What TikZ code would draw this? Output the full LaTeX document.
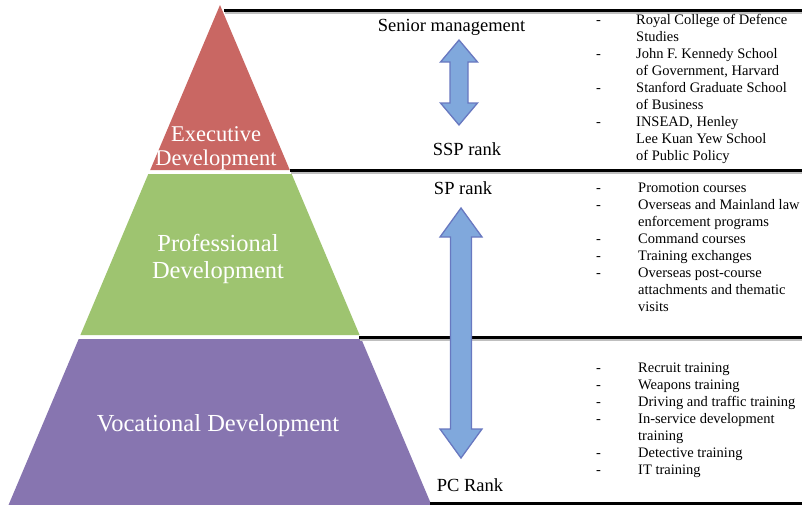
\documentclass[tikz,border=0pt]{standalone}
\usepackage{fontspec}
\setmainfont{Liberation Serif}
\definecolor{execred}{RGB}{201,103,99}
\definecolor{profgreen}{RGB}{158,196,112}
\definecolor{vocpurple}{RGB}{135,117,176}
\definecolor{arrowblue}{RGB}{128,168,220}
\definecolor{arrowedge}{RGB}{104,120,192}
\begin{document}
\begin{tikzpicture}[x=1pt,y=-1pt,
  rule/.style={line width=3pt, black},
  ruleshade/.style={line width=2pt, black!25},
  tier/.style={text=white, align=center, inner sep=0pt, anchor=base},
  rank/.style={font=\fontsize{18.5}{21}\selectfont, inner sep=0pt, anchor=base},
  itemlist/.style={font=\fontsize{14.5}{17}\selectfont, inner sep=0pt, anchor=base west},
  movearrow/.style={fill=arrowblue, draw=arrowedge, line width=1.3pt, line join=miter}
]
\useasboundingbox (0,0) rectangle (802,504);

% pyramid tiers
\fill[execred]   (220,5) -- (289.8,170) -- (150.2,170) -- cycle;
\fill[profgreen] (148.3,174) -- (291.7,174) -- (359.6,335) -- (80.4,335) -- cycle;
\fill[vocpurple] (78.7,339) -- (361.3,339) -- (431.9,506) -- (8.1,506) -- cycle;

% separator rules with a soft shade underneath
\draw[ruleshade] (225,12.5) -- (802,12.5);
\draw[rule]      (224,10) -- (802,10);
\draw[ruleshade] (291,172.5) -- (802,172.5);
\draw[rule]      (290,170) -- (802,170);
\draw[ruleshade] (360,339.5) -- (802,339.5);
\draw[rule]      (359,337) -- (802,337);
\draw[rule]      (430,503) -- (802,503);

% tier labels
\node[tier, font=\fontsize{22.5}{24}\selectfont] (exec1) at (216,141) {Executive};
\node[tier, font=\fontsize{22.5}{24}\selectfont] (exec2) at (216,165) {Development};
\node[tier, font=\fontsize{24.5}{27}\selectfont] (prof1) at (218,251) {Professional};
\node[tier, font=\fontsize{24.5}{27}\selectfont] (prof2) at (218,278) {Development};
\node[tier, font=\fontsize{24.5}{27}\selectfont] (voc) at (218,431) {Vocational Development};

% rank labels
\node[rank] (senior) at (451.5,31) {Senior management};
\node[rank] (ssp) at (467,155) {SSP rank};
\node[rank] (sp) at (463,194) {SP rank};
\node[rank] (pc) at (470,491) {PC Rank};

% double-headed progression arrows
\draw[movearrow] (459,40) -- (477.5,62) -- (468,62) -- (468,103) -- (477.5,103) -- (459,125)
  -- (440.5,103) -- (450,103) -- (450,62) -- (440.5,62) -- cycle;
\draw[movearrow] (461,208) -- (482,237) -- (471.5,237) -- (471.5,429) -- (482,429) -- (461,458)
  -- (440,429) -- (450.5,429) -- (450.5,237) -- (440,237) -- cycle;

% course lists
\node[itemlist] (execlist) at (596,24.5) {\begin{tabular}[t]{@{}p{40pt}@{}l@{}}
- & Royal College of Defence\\
  & Studies\\
- & John F. Kennedy School\\
  & of Government, Harvard\\
- & Stanford Graduate School\\
  & of Business\\
- & INSEAD, Henley\\
  & Lee Kuan Yew School\\
  & of Public Policy
\end{tabular}};

\node[itemlist] (proflist) at (596,192.5) {\begin{tabular}[t]{@{}p{42pt}@{}l@{}}
- & Promotion courses\\
- & Overseas and Mainland law\\
  & enforcement programs\\
- & Command courses\\
- & Training exchanges\\
- & Overseas post-course\\
  & attachments and thematic\\
  & visits
\end{tabular}};

\node[itemlist] (voclist) at (596,372.5) {\begin{tabular}[t]{@{}p{42pt}@{}l@{}}
- & Recruit training\\
- & Weapons training\\
- & Driving and traffic training\\
- & In-service development\\
  & training\\
- & Detective training\\
- & IT training
\end{tabular}};
\end{tikzpicture}
\end{document}
